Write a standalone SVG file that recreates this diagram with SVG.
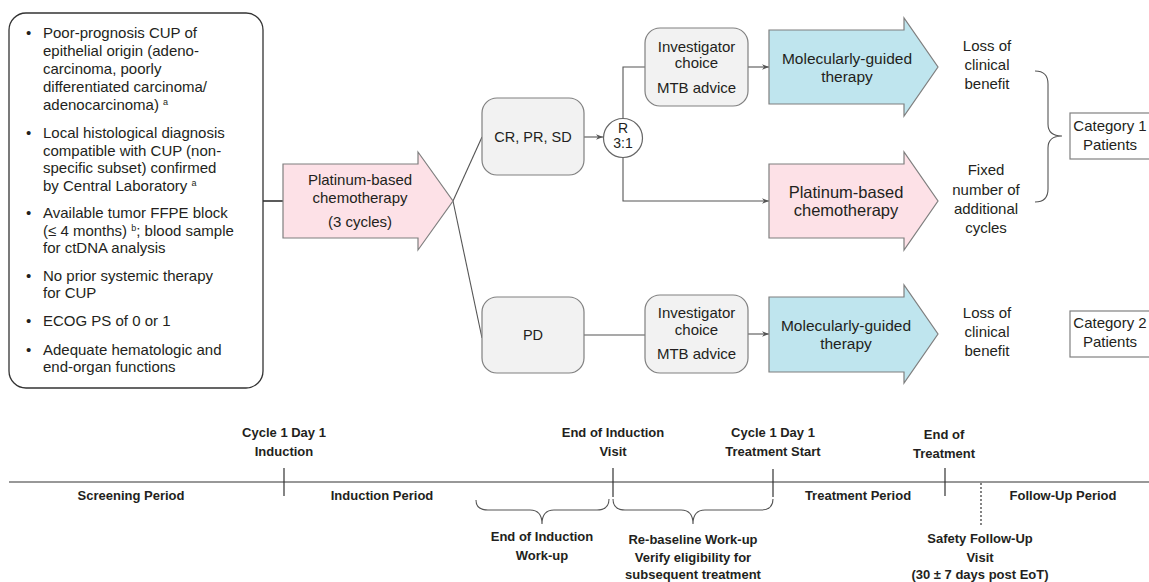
<svg xmlns="http://www.w3.org/2000/svg" width="1149" height="582" viewBox="0 0 1149 582">
<style>
text{font-family:"Liberation Sans",Arial,sans-serif;fill:#231f20;}
.c{text-anchor:middle;}
.t15{font-size:15px;}
.t14{font-size:14.5px;}
.lb{font-size:15px;}
.b{font-size:13px;font-weight:bold;text-anchor:middle;}
.box{fill:#f2f2f2;stroke:#808080;stroke-width:1.2;}
.pink{fill:#fde1e7;stroke:#7f7f7f;stroke-width:1.2;}
.blue{fill:#bfe5ee;stroke:#7f7f7f;stroke-width:1.2;}
.ln{fill:none;stroke:#555;stroke-width:1.1;}
.tl{fill:none;stroke:#333;stroke-width:1.2;}
.cat{fill:#fff;stroke:#808080;stroke-width:1.2;}
</style>
<defs>
<marker id="ah" viewBox="0 0 10 10" refX="10" refY="5" markerWidth="7" markerHeight="7" orient="auto" markerUnits="userSpaceOnUse">
<path d="M0,1 L10,5 L0,9 L3,5 Z" fill="#555"/>
</marker>
</defs>

<g id="eligibility">
<rect x="9" y="13" width="254" height="375" rx="17" fill="#fff" stroke="#333" stroke-width="1.3"/>
<g class="lb">
<text x="26" y="38">•</text>
<text x="43" y="38">Poor-prognosis CUP of</text>
<text x="43" y="56">epithelial origin (adeno-</text>
<text x="43" y="74">carcinoma, poorly</text>
<text x="43" y="92">differentiated carcinoma/</text>
<text x="43" y="110">adenocarcinoma) <tspan font-size="9" dy="-5">a</tspan></text>
<text x="26" y="138">•</text>
<text x="43" y="138">Local histological diagnosis</text>
<text x="43" y="156">compatible with CUP (non-</text>
<text x="43" y="173">specific subset) confirmed</text>
<text x="43" y="191">by Central Laboratory <tspan font-size="9" dy="-5">a</tspan></text>
<text x="26" y="218">•</text>
<text x="43" y="218">Available tumor FFPE block</text>
<text x="43" y="236">(≤ 4 months) <tspan font-size="9" dy="-5">b</tspan><tspan dy="5">; blood sample</tspan></text>
<text x="43" y="253">for ctDNA analysis</text>
<text x="26" y="281">•</text>
<text x="43" y="281">No prior systemic therapy</text>
<text x="43" y="298">for CUP</text>
<text x="26" y="326">•</text>
<text x="43" y="326">ECOG PS of 0 or 1</text>
<text x="26" y="355">•</text>
<text x="43" y="355">Adequate hematologic and</text>
<text x="43" y="372">end-organ functions</text>
</g>
</g>

<g id="connectors">
<line x1="263" y1="201" x2="283" y2="201" stroke="#333" stroke-width="1.6"/>
<line class="ln" x1="453" y1="201" x2="482" y2="137"/>
<line class="ln" x1="453" y1="201" x2="482" y2="338"/>
<line class="ln" x1="584" y1="137" x2="603" y2="137" marker-end="url(#ah)"/>
<polyline class="ln" points="623,119 623,67 645,67"/>
<polyline class="ln" points="623,157 623,201 769,201" marker-end="url(#ah)"/>
<line class="ln" x1="748" y1="67" x2="769" y2="67" marker-end="url(#ah)"/>
<line class="ln" x1="584" y1="335" x2="645" y2="335"/>
<line class="ln" x1="748" y1="334" x2="769" y2="334" marker-end="url(#ah)"/>
<path class="ln" d="M1035,71 Q1048,71 1048,84 L1048,124 Q1048,136 1062,136 Q1048,136 1048,148 L1048,189 Q1048,202 1035,202"/>
</g>

<g id="induction-chemo">
<path class="pink" d="M283,164 L418,164 L418,152 L453,201 L418,250 L418,238 L283,238 Z"/>
<text class="c t15" x="360" y="185">Platinum-based</text>
<text class="c t15" x="360" y="203">chemotherapy</text>
<text class="c t15" x="360" y="227">(3 cycles)</text>
</g>

<g id="cr-pr-sd">
<rect class="box" x="482" y="98" width="102" height="77" rx="15"/>
<text class="c t14" x="533" y="142">CR, PR, SD</text>
</g>

<g id="pd">
<rect class="box" x="482" y="297" width="102" height="76" rx="15"/>
<text class="c t14" x="533" y="340">PD</text>
</g>

<g id="randomize">
<circle cx="623" cy="138" r="19.5" fill="#fff" stroke="#666" stroke-width="1.2"/>
<text class="c" x="623" y="133" font-size="14">R</text>
<text class="c" x="623" y="148" font-size="14">3:1</text>
</g>

<g id="investigator-1">
<rect class="box" x="645" y="28" width="103" height="78" rx="15"/>
<text class="c t15" x="696.5" y="52">Investigator</text>
<text class="c t15" x="696.5" y="68">choice</text>
<text class="c t15" x="696.5" y="93">MTB advice</text>
</g>

<g id="investigator-2">
<rect class="box" x="645" y="295" width="103" height="78" rx="15"/>
<text class="c t15" x="696.5" y="318">Investigator</text>
<text class="c t15" x="696.5" y="335">choice</text>
<text class="c t15" x="696.5" y="359">MTB advice</text>
</g>

<g id="mgt-1">
<path class="blue" d="M769,30 L904,30 L904,18 L938,67 L904,116 L904,104 L769,104 Z"/>
<text class="c" x="847" y="63.5" font-size="15.5">Molecularly-guided</text>
<text class="c" x="847" y="81.5" font-size="15.5">therapy</text>
</g>

<g id="platinum-2">
<path class="pink" d="M769,164 L904,164 L904,152 L938,201 L904,250 L904,238 L769,238 Z"/>
<text class="c" x="846" y="198" font-size="16.5">Platinum-based</text>
<text class="c" x="846" y="216" font-size="16.5">chemotherapy</text>
</g>

<g id="mgt-2">
<path class="blue" d="M769,297 L904,297 L904,285 L938,334 L904,383 L904,372 L769,372 Z"/>
<text class="c" x="846" y="330.5" font-size="15.5">Molecularly-guided</text>
<text class="c" x="846" y="348.5" font-size="15.5">therapy</text>
</g>

<g id="outcome-1">
<text class="c t15" x="987" y="51">Loss of</text>
<text class="c t15" x="987" y="70">clinical</text>
<text class="c t15" x="987" y="89">benefit</text>
</g>

<g id="outcome-2">
<text class="c t15" x="986" y="175">Fixed</text>
<text class="c t15" x="986" y="195">number of</text>
<text class="c t15" x="986" y="214">additional</text>
<text class="c t15" x="986" y="233">cycles</text>
</g>

<g id="outcome-3">
<text class="c t15" x="987" y="318">Loss of</text>
<text class="c t15" x="987" y="337">clinical</text>
<text class="c t15" x="987" y="356">benefit</text>
</g>

<g id="category-1">
<rect class="cat" x="1070" y="113" width="100" height="46"/>
<text class="c t15" x="1110" y="131">Category 1</text>
<text class="c t15" x="1110" y="150">Patients</text>
</g>

<g id="category-2">
<rect class="cat" x="1070" y="311" width="100" height="46"/>
<text class="c t15" x="1110" y="328">Category 2</text>
<text class="c t15" x="1110" y="347">Patients</text>
</g>

<g id="timeline">
<line class="tl" x1="9" y1="482" x2="1149" y2="482"/>
<line class="tl" x1="284" y1="468" x2="284" y2="496"/>
<line class="tl" x1="613" y1="468" x2="613" y2="497"/>
<line class="tl" x1="773" y1="469" x2="773" y2="497"/>
<line class="tl" x1="945" y1="468" x2="945" y2="496"/>
<line x1="981" y1="483" x2="981" y2="525" stroke="#333" stroke-width="1.2" stroke-dasharray="2,2"/>
<path class="ln" d="M476,500 Q476,510 488,510 L530,510 Q542,510 542,524 Q542,510 554,510 L597,510 Q609,510 609,499"/>
<path class="ln" d="M613,499 Q613,510 625,510 L681,510 Q693,510 693,524 Q693,510 705,510 L761,510 Q773,510 773,499"/>
<text class="b" x="284" y="437">Cycle 1 Day 1</text>
<text class="b" x="284" y="456">Induction</text>
<text class="b" x="613" y="437">End of Induction</text>
<text class="b" x="613" y="456">Visit</text>
<text class="b" x="773" y="437">Cycle 1 Day 1</text>
<text class="b" x="773" y="456">Treatment Start</text>
<text class="b" x="944" y="439">End of</text>
<text class="b" x="944" y="458">Treatment</text>
<text class="b" x="131" y="500">Screening Period</text>
<text class="b" x="382" y="500">Induction Period</text>
<text class="b" x="858" y="500">Treatment Period</text>
<text class="b" x="1063" y="500">Follow-Up Period</text>
<text class="b" x="542" y="541">End of Induction</text>
<text class="b" x="542" y="560">Work-up</text>
<text class="b" x="693" y="544">Re-baseline Work-up</text>
<text class="b" x="693" y="562">Verify eligibility for</text>
<text class="b" x="693" y="579">subsequent treatment</text>
<text class="b" x="980" y="543">Safety Follow-Up</text>
<text class="b" x="980" y="562">Visit</text>
<text class="b" x="980" y="579">(30 ± 7 days post EoT)</text>
</g>
</svg>
